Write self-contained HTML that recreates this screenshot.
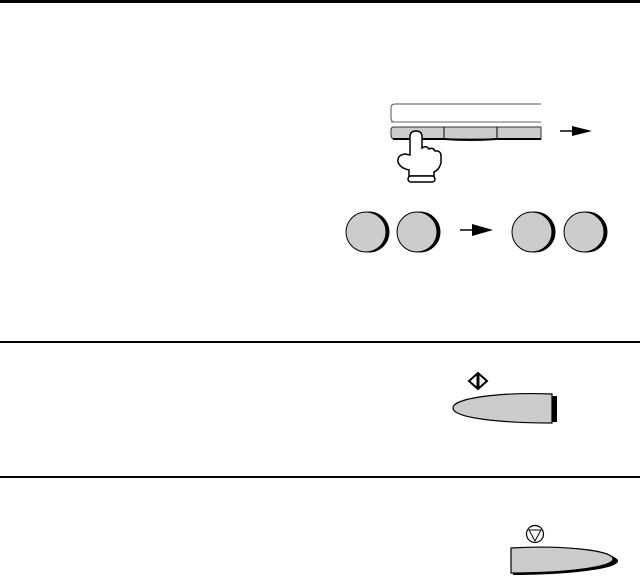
<!DOCTYPE html>
<html><head><meta charset="utf-8"><style>html,body{margin:0;padding:0;background:#fff}svg{display:block}</style></head>
<body>
<svg width="640" height="576" viewBox="0 0 640 576" xmlns="http://www.w3.org/2000/svg">
<rect x="0" y="0" width="640" height="3" fill="#000"/>
<rect x="0" y="341" width="640" height="2" fill="#000"/>
<rect x="0" y="476" width="640" height="2" fill="#000"/>

<path d="M541 104 H395 Q391 104 391 108 V118 Q391 122 395 122 H541" fill="#fff" stroke="#555" stroke-width="1"/>
<line x1="391" y1="122" x2="541" y2="122" stroke="#999" stroke-width="1.5"/>
<path d="M541 127 H394 Q391 127 391 130 V135 Q391 139 395 139 H541 Z" fill="#ccc" stroke="#333" stroke-width="1"/>
<path d="M393 139 H444 Q470 141 497 139 H541" fill="none" stroke="#000" stroke-width="2"/>
<line x1="444" y1="127" x2="444" y2="139" stroke="#000"/>
<line x1="497" y1="127" x2="497" y2="139" stroke="#000"/>
<path d="M409 176 V170 Q400 168 398 162 Q397 155 405 154 L410 155 V137 Q410 131 416 131 Q422 131 422 137 V148 Q426 145 429 149 Q433 147 435 151 Q440 150 441 155 V163 Q439 170 434 172 V176 Z" fill="#fff" stroke="#000" stroke-width="1.5"/>
<rect x="408" y="176" width="27" height="6" rx="3" fill="#fff" stroke="#000" stroke-width="1.5"/>
<line x1="560" y1="131" x2="575" y2="131" stroke="#000" stroke-width="1.5"/>
<path d="M572 126 L592 131 L572 136 Z" fill="#000"/>

<g stroke="#000" stroke-width="1">
<circle cx="369" cy="232" r="20" fill="#000"/><circle cx="366" cy="232" r="20" fill="#ccc"/>
<circle cx="420" cy="232" r="20" fill="#000"/><circle cx="417" cy="232" r="20" fill="#ccc"/>
<circle cx="535" cy="232" r="20" fill="#000"/><circle cx="532" cy="232" r="20" fill="#ccc"/>
<circle cx="587" cy="232" r="20" fill="#000"/><circle cx="584" cy="232" r="20" fill="#ccc"/>
</g>
<line x1="460" y1="230" x2="475" y2="230" stroke="#000" stroke-width="1.5"/>
<path d="M472 224 L493 230 L472 236 Z" fill="#000"/>

<path d="M478 373 L487 381 L478 389 L469 381 Z" fill="#fff" stroke="#000" stroke-width="2"/>
<line x1="478" y1="374" x2="478" y2="388" stroke="#000" stroke-width="3"/>
<path d="M551 396 H557 V422 H551 Z" fill="#000"/>
<path d="M552 394 C500 392 453 398 453 408 C453 418 500 423 552 423 Z" fill="#ccc" stroke="#000" stroke-width="1.2"/>

<circle cx="535" cy="534" r="8.5" fill="#fff" stroke="#000" stroke-width="1.2"/>
<path d="M529 530 H541 L535 541 Z" fill="none" stroke="#000" stroke-width="1"/>
<path d="M513 550 C560 546 618 552 618 561 C618 570 560 575 513 575" fill="#000"/>
<path d="M511 548 C560 545 613 550 613 559 C613 568 560 573 511 573 Z" fill="#ccc" stroke="#000" stroke-width="1.2"/>
</svg>
</body></html>
